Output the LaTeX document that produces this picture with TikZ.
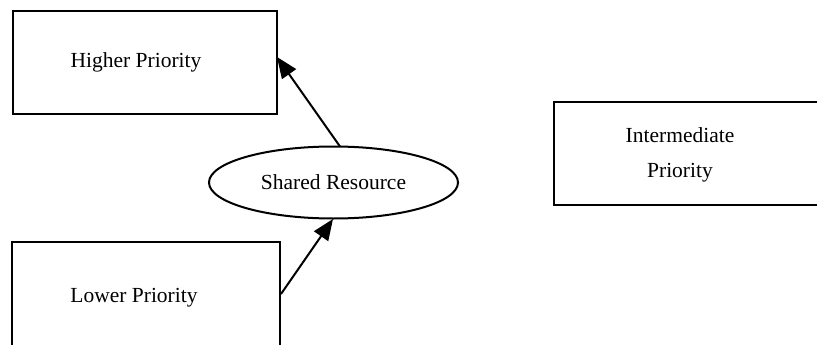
\documentclass[tikz,border=0pt]{standalone}
\usepackage{fontspec}
\setmainfont{Liberation Serif}
\usetikzlibrary{arrows.meta,shapes.geometric}
\begin{document}
\begin{tikzpicture}[x=1pt,y=-1pt,
  box/.style={draw,line width=2pt,rectangle,inner sep=0pt},
  lbl/.style={font=\fontsize{21.5}{35}\selectfont},
  conn/.style={line width=2pt,-{Triangle[length=21pt,width=17pt]}}]
\useasboundingbox (0,0) rectangle (817,345);
\clip (0,0) rectangle (817,345);
\node[box,minimum width=264pt,minimum height=103pt,
  label={[lbl,xshift=-9pt]center:Higher Priority}] (hp) at (145,62.5) {};
\node[box,minimum width=268pt,minimum height=140pt,
  label={[lbl,xshift=-12pt,yshift=14pt]center:Lower Priority}] (lp) at (146,312) {};
\node[box,minimum width=290pt,minimum height=103pt] (ip) at (699,153.5) {};
\node[lbl,align=center] (iptext) at (680,155) {Intermediate\\Priority};
\node[draw,line width=2pt,ellipse,minimum width=249pt,minimum height=72pt,inner sep=0pt,lbl] (sr) at (333.5,182.5) {Shared Resource};
\coordinate (a1s) at (340,146.5);
\coordinate (a1e) at (277,57);
\coordinate (a2s) at (281,294);
\coordinate (a2e) at (333,219);
\draw[conn] (a1s) -- (a1e);
\draw[conn] (a2s) -- (a2e);
\end{tikzpicture}
\end{document}
